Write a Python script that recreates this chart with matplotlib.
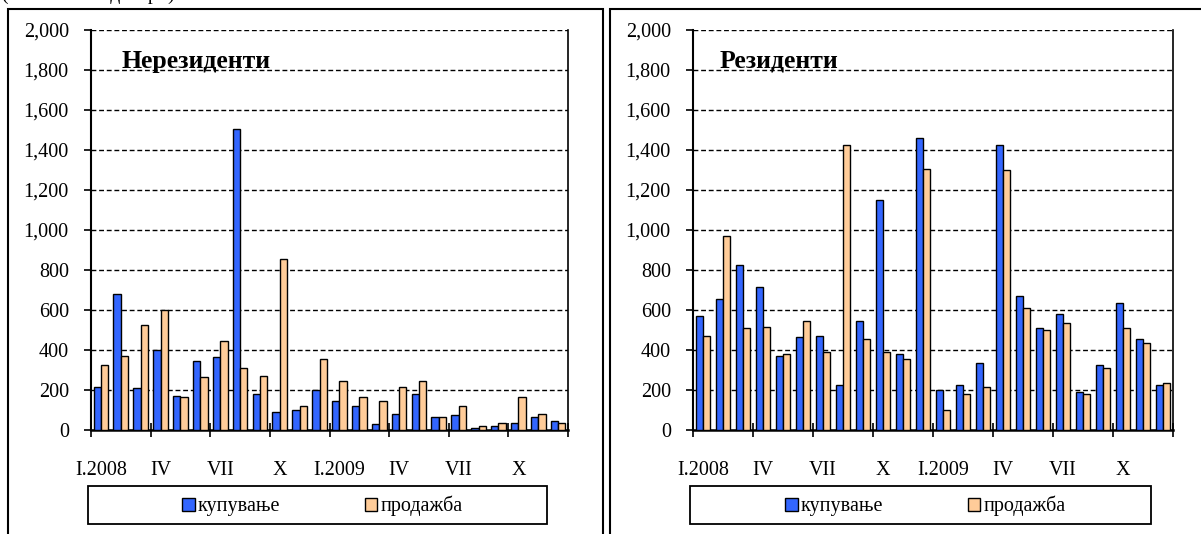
import matplotlib
matplotlib.use('Agg')
import matplotlib.pyplot as plt
from matplotlib.patches import Rectangle
from matplotlib.ticker import FuncFormatter
import numpy as np

plt.rcParams['font.family'] = ['Liberation Serif', 'DejaVu Serif']

# monthly data, I.2008 - XII.2009
tick_labels = ['I.2008', 'IV', 'VII', 'X', 'I.2009', 'IV', 'VII', 'X']
series_names = ['купување', 'продажба']

nonres_buy = [217, 682, 208, 400, 172, 347, 363, 1507, 182, 90, 98, 200,
              145, 118, 28, 82, 182, 63, 73, 10, 18, 37, 63, 45]
nonres_sell = [327, 372, 527, 598, 163, 263, 447, 308, 272, 853, 118, 355,
               245, 163, 145, 217, 245, 63, 118, 18, 37, 163, 82, 37]

res_buy = [570, 653, 827, 717, 372, 463, 472, 227, 543, 1152, 382, 1462,
           200, 227, 337, 1427, 672, 508, 582, 190, 327, 635, 453, 227]
res_sell = [472, 972, 508, 517, 382, 543, 390, 1427, 453, 390, 355, 1307,
            100, 182, 217, 1298, 608, 498, 537, 182, 308, 508, 435, 235]

W, H = 1201, 534
BLUE = '#3366FF'
ORANGE = '#FFCC99'


def fx(px):
    return px / W


def fy(py):
    return 1 - py / H


fig = plt.figure(figsize=(W / 100, H / 100), dpi=100)

# unit caption, only its lower edge shows at the very top
fig.text(fx(2), 1.0 + 0.5 / H, '(во милиони денари)', fontsize=14,
         va='baseline', ha='left')

# panel frames
for x0, x1 in [(7.5, 603), (610, 1215)]:
    fig.add_artist(Rectangle((fx(x0), fy(545)), fx(x1) - fx(x0), fy(9) - fy(545),
                             transform=fig.transFigure, fill=False,
                             edgecolor='black', lw=1.5, clip_on=False))

panels = [
    (91, 477, 'Нерезиденти', nonres_buy, nonres_sell, (88, 547), 122),
    (693, 480, 'Резиденти', res_buy, res_sell, (690, 1151), 720),
]

x = np.arange(24)
bw = 0.37
for left, width, title, buy, sell, (lx0, lx1), tx in panels:
    ax = fig.add_axes([fx(left), fy(430), fx(width), fy(30) - fy(430)])
    b1 = ax.bar(x - bw / 2, buy, bw, color=BLUE, edgecolor='black', lw=1.0,
                label=series_names[0], zorder=3)
    b2 = ax.bar(x + bw / 2, sell, bw, color=ORANGE, edgecolor='black', lw=1.0,
                label=series_names[1], zorder=3)
    ax.set_xlim(-0.5, 23.5)
    ax.set_ylim(0, 2000)
    ax.set_yticks(np.arange(0, 2001, 200))
    ax.yaxis.set_major_formatter(FuncFormatter(lambda v, p: f'{int(v):,}'))
    ax.tick_params(axis='y', direction='out', length=5, width=1.2,
                   pad=11, labelsize=14.5)
    ax.yaxis.grid(True, color='black', linestyle=(0, (3.5, 2)), lw=1.0, zorder=1)

    # ticks on quarter boundaries, labels under the first month of each quarter
    ax.set_xticks(np.arange(-0.5, 24, 3))
    ax.set_xticklabels([])
    ax.tick_params(axis='x', which='major', direction='inout', length=10, width=1.2)
    ax.set_xticks(np.arange(0, 24, 3), minor=True)
    ax.set_xticklabels(tick_labels, minor=True)
    ax.tick_params(axis='x', which='minor', length=0, pad=22, labelsize=14.5)

    ax.spines['top'].set_visible(False)
    ax.spines['left'].set_linewidth(1.5)
    ax.spines['bottom'].set_linewidth(1.8)
    ax.spines['right'].set_linewidth(1.2)

    ax.text((tx - left) / width, (430 - 68) / 400, title, transform=ax.transAxes,
            fontsize=18.5, fontweight='bold', va='baseline', ha='left')

    # legend box
    fig.add_artist(Rectangle((fx(lx0), fy(524)), fx(lx1) - fx(lx0), fy(486) - fy(524),
                             transform=fig.transFigure, fill=False,
                             edgecolor='black', lw=1.3))
    fig.legend(handles=[b1, b2], loc='center',
               bbox_to_anchor=(fx((lx0 + lx1) / 2 + 5), fy(506)), ncol=2,
               frameon=False, fontsize=14.5, handlelength=0.62, handleheight=0.62,
               handletextpad=0.15, columnspacing=4.2)

fig.savefig('out.png', dpi=100)
